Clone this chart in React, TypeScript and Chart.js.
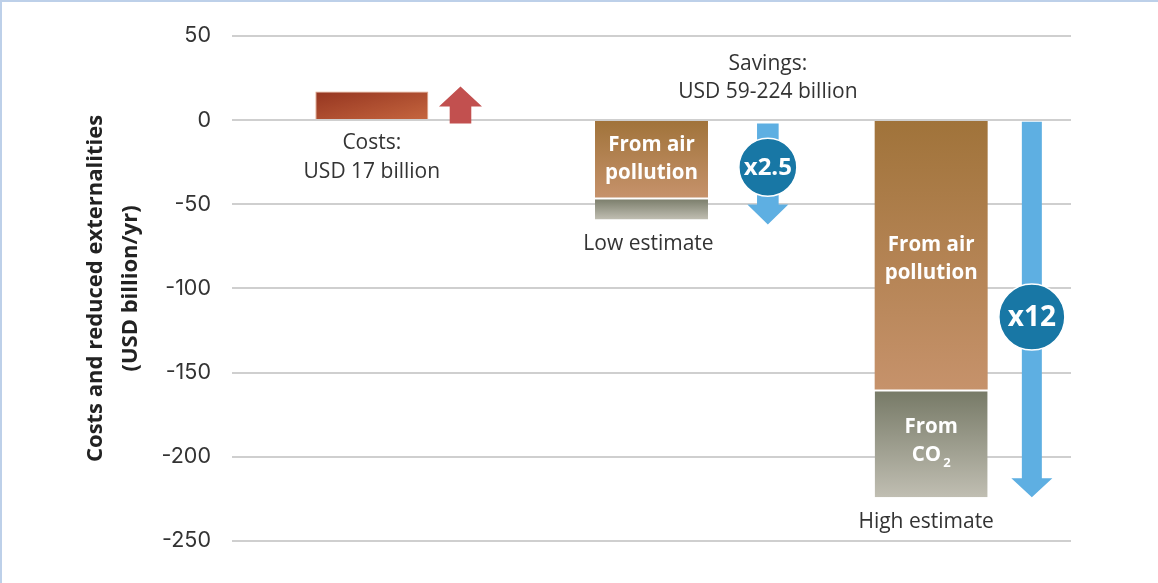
import React, { useEffect, useRef } from 'react';
import { Chart, registerables } from 'chart.js';

Chart.register(...registerables);

// ---- data ----
const categories = ['Costs', 'Low estimate', 'High estimate'];
const costValues = [17, null, null];
const airPollutionValues = [null, -46, -160];
const co2Values = [null, -13, -64];
const yMin = -250;
const yMax = 50;
const yStep = 50;

// arrows: start / end values (USD billion/yr)
const arrowStart = [-2, -2, -1];
const arrowEnd = [20, -62, -224];
const multiplierLabels = ['x2.5', 'x12'];
const multiplierValues = [-28, -117];

const FONT = '"Open Sans", "Noto Sans", "DejaVu Sans", sans-serif';
const TICK_FONT = 'Inter, "Open Sans", sans-serif';

export default function App() {
  const ref = useRef<HTMLCanvasElement>(null);

  useEffect(() => {
    const canvas = ref.current;
    if (!canvas) return;

    const arrowPos = [0.317, 1.416, 2.36];
    const arrowColors = ['#c2504f', '#5eafe2', '#5eafe2'];

    const barHalf = (chart: any) => {
      const x = chart.scales.x;
      return (x.width / categories.length) * 0.404 / 2;
    };

    const vGrad = (chart: any, v0: number, v1: number, c0: string, c1: string) => {
      const y = chart.scales.y;
      const g = chart.ctx.createLinearGradient(0, y.getPixelForValue(v0), 0, y.getPixelForValue(v1));
      g.addColorStop(0, c0);
      g.addColorStop(1, c1);
      return g;
    };

    const annot = {
      id: 'annot',
      afterDatasetsDraw(chart: any) {
        const { ctx } = chart;
        const x = chart.scales.x;
        const y = chart.scales.y;
        ctx.save();

        // arrows
        for (let i = 0; i < arrowStart.length; i++) {
          const cx = x.getPixelForValue(arrowPos[i]);
          const ys = y.getPixelForValue(arrowStart[i]);
          const ye = y.getPixelForValue(arrowEnd[i]);
          const dir = ye < ys ? -1 : 1;
          const head = i === 2 ? 19 : 20;
          const hw = i === 0 ? 21.5 : 20.5;
          const sw = i === 2 ? 10 : 10.8;
          const yb = ye - dir * head;
          ctx.fillStyle = arrowColors[i];
          ctx.beginPath();
          ctx.moveTo(cx - sw, ys);
          ctx.lineTo(cx - sw, yb);
          ctx.lineTo(cx - hw, yb);
          ctx.lineTo(cx, ye);
          ctx.lineTo(cx + hw, yb);
          ctx.lineTo(cx + sw, yb);
          ctx.lineTo(cx + sw, ys);
          ctx.closePath();
          ctx.fill();
        }

        // multiplier circles
        const radii = [29, 33];
        const fsz = [24, 28];
        for (let i = 0; i < multiplierLabels.length; i++) {
          const cx = x.getPixelForValue(arrowPos[i + 1]);
          const cy = y.getPixelForValue(multiplierValues[i]);
          ctx.beginPath();
          ctx.arc(cx, cy, radii[i], 0, Math.PI * 2);
          ctx.fillStyle = '#1877a5';
          ctx.fill();
          ctx.lineWidth = 1.5;
          ctx.strokeStyle = '#ffffff';
          ctx.stroke();
          ctx.fillStyle = '#ffffff';
          ctx.font = `bold ${fsz[i]}px ${FONT}`;
          ctx.textAlign = 'center';
          ctx.textBaseline = 'middle';
          ctx.fillText(multiplierLabels[i], cx, cy + 1);
        }

        // regular labels
        const y0 = y.getPixelForValue(0);
        ctx.fillStyle = '#333333';
        ctx.font = `21px ${FONT}`;
        ctx.textAlign = 'center';
        ctx.textBaseline = 'middle';
        const c0 = x.getPixelForValue(0);
        ctx.fillText('Costs:', c0, y0 + 23);
        ctx.fillText('USD 17 billion', c0, y0 + 52);
        const sx = x.getPixelForValue(arrowPos[1]);
        ctx.fillText('Savings:', sx, y0 - 56);
        ctx.fillText('USD 59-224 billion', sx, y0 - 28);
        const lowBottom = y.getPixelForValue((airPollutionValues[1] as number) + (co2Values[1] as number));
        ctx.fillText('Low estimate', x.getPixelForValue(1) - 3, lowBottom + 25);
        const highBottom = y.getPixelForValue((airPollutionValues[2] as number) + (co2Values[2] as number));
        ctx.fillText('High estimate', x.getPixelForValue(2) - 5, highBottom + 25);

        // in-bar labels
        ctx.fillStyle = '#ffffff';
        ctx.font = `bold 20.5px ${FONT}`;
        for (const i of [1, 2]) {
          const cx = x.getPixelForValue(i);
          const a = airPollutionValues[i] as number;
          const mid = (y.getPixelForValue(0) + y.getPixelForValue(a)) / 2 + (i === 2 ? 4 : 0);
          ctx.fillText('From air', cx, mid - 14);
          ctx.fillText('pollution', cx, mid + 14);
        }
        {
          const cx = x.getPixelForValue(2);
          const a = airPollutionValues[2] as number;
          const b = a + (co2Values[2] as number);
          const mid = (y.getPixelForValue(a) + y.getPixelForValue(b)) / 2 - 2;
          ctx.font = `bold 20.5px ${FONT}`;
          ctx.fillText('From', cx, mid - 14);
          const wCO = ctx.measureText('CO').width;
          ctx.font = `bold 13px ${FONT}`;
          const w2 = ctx.measureText('2').width;
          const left = cx - (wCO + 2 + w2) / 2;
          ctx.textAlign = 'left';
          ctx.font = `bold 20.5px ${FONT}`;
          ctx.fillText('CO', left, mid + 14);
          ctx.font = `bold 13px ${FONT}`;
          ctx.fillText('2', left + wCO + 2, mid + 22);
        }
        ctx.restore();
      },
    };

    const chart = new Chart(canvas, {
      type: 'bar',
      data: {
        labels: categories,
        datasets: [
          {
            label: 'Costs',
            data: costValues as any,
            backgroundColor: (c: any) => {
              const chart = c.chart;
              if (!chart.chartArea) return '#a9452a';
              const x = chart.scales.x;
              const y = chart.scales.y;
              const cx = x.getPixelForValue(0);
              const h = barHalf(chart);
              const L = cx - h;
              const T = y.getPixelForValue(costValues[0] as number);
              const B = y.getPixelForValue(0);
              const w = 2 * h;
              const hh = B - T;
              const k = (2 * w * hh) / (w * w + hh * hh);
              const g = chart.ctx.createLinearGradient(L, T, L + k * hh, T + k * w);
              g.addColorStop(0, '#953520');
              g.addColorStop(1, '#c6663f');
              return g;
            },
            borderColor: '#e0a283',
            borderWidth: 1,
            barPercentage: 0.404,
            categoryPercentage: 1,
          },
          {
            label: 'From air pollution',
            data: airPollutionValues as any,
            backgroundColor: (c: any) => {
              const chart = c.chart;
              if (!chart.chartArea) return '#b0804f';
              const v = airPollutionValues[c.dataIndex] ?? 0;
              return vGrad(chart, 0, v, '#a0733a', '#c6926b');
            },
            barPercentage: 0.404,
            categoryPercentage: 1,
          },
          {
            label: 'From CO2',
            data: co2Values as any,
            backgroundColor: (c: any) => {
              const chart = c.chart;
              if (!chart.chartArea) return '#999988';
              const a = airPollutionValues[c.dataIndex] ?? 0;
              const b = a + (co2Values[c.dataIndex] ?? 0);
              return vGrad(chart, a, b, '#767966', '#c0beb2');
            },
            borderColor: '#ffffff',
            borderWidth: { top: 2, bottom: 0, left: 0, right: 0 },
            borderSkipped: false,
            barPercentage: 0.404,
            categoryPercentage: 1,
          },
        ],
      },
      options: {
        animation: false,
        responsive: true,
        maintainAspectRatio: false,
        layout: { padding: { left: 0, right: 87, top: 32, bottom: 42 } },
        plugins: { legend: { display: false }, tooltip: { enabled: false } },
        scales: {
          x: { display: false, stacked: true },
          y: {
            stacked: true,
            min: yMin,
            max: yMax,
            afterFit: (s: any) => {
              s.width = 230;
            },
            border: { display: false },
            grid: { color: '#cfcfcf', lineWidth: 2, drawTicks: false },
            ticks: {
              stepSize: yStep,
              padding: 21,
              color: '#333333',
              font: { family: TICK_FONT, size: 21.5 },
            },
            title: {
              display: true,
              text: ['Costs and reduced externalities', '(USD billion/yr)'],
              color: '#222222',
              font: { family: FONT, size: 22, weight: 'bold', lineHeight: 1.6 },
              padding: { top: 76, bottom: 0 },
            },
          },
        },
      },
      plugins: [annot],
    });

    return () => chart.destroy();
  }, []);

  return (
    <div
      style={{
        position: 'absolute',
        left: 0,
        top: 0,
        width: 1158,
        height: 583,
        boxSizing: 'border-box',
        borderTop: '2px solid #bdd0e9',
        borderLeft: '2px solid #bdd0e9',
        background: '#ffffff',
      }}
    >
      <div style={{ position: 'relative', width: 1156, height: 581 }}>
        <canvas ref={ref} />
      </div>
    </div>
  );
}
